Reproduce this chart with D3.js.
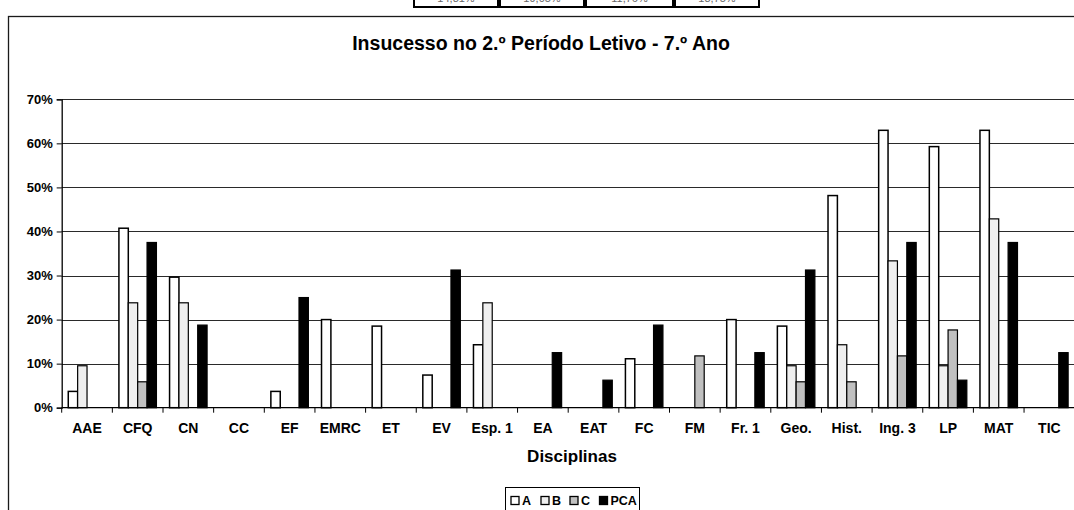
<!DOCTYPE html>
<html>
<head>
<meta charset="utf-8">
<script src="https://cdn.jsdelivr.net/npm/d3@7"></script>
<style>
  body { margin: 0; background: #fff; }
  svg { display: block; font-family: "Liberation Sans", Arial, sans-serif; }
</style>
</head>
<body>
<div id="chart"></div>
<script>
const categories = ["AAE", "CFQ", "CN", "CC", "EF", "EMRC", "ET", "EV", "Esp. 1", "EA",
    "EAT", "FC", "FM", "Fr. 1", "Geo.", "Hist.", "Ing. 3", "LP", "MAT", "TIC"];
const series = ["A", "B", "C", "PCA"];
const valuesA = [3.70, 40.74, 29.63, 0, 3.70, 20.00, 18.52, 7.41, 14.29, 0,
    0, 11.11, 0, 20.00, 18.52, 48.15, 62.96, 59.26, 62.96, 0];
const valuesB = [9.52, 23.81, 23.81, 0, 0, 0, 0, 0, 23.81, 0,
    0, 0, 0, 0, 9.52, 14.29, 33.33, 9.52, 42.86, 0];
const valuesC = [0, 5.88, 0, 0, 0, 0, 0, 0, 0, 0,
    0, 0, 11.76, 0, 5.88, 5.88, 11.76, 17.65, 0, 0];
const valuesPCA = [0, 37.5, 18.75, 0, 25, 0, 0, 31.25, 0, 12.5,
    6.25, 18.75, 0, 12.5, 31.25, 0, 37.5, 6.25, 37.5, 12.5];
const yTicks = [0, 10, 20, 30, 40, 50, 60, 70];
const tableCells = ["14,81%", "19,05%", "11,76%", "18,75%"];

const colors = { A: "#ffffff", B: "#efefef", C: "#c0c0c0", PCA: "#000000" };
const seriesValues = { A: valuesA, B: valuesB, C: valuesC, PCA: valuesPCA };

const W = 1074, H = 510;
const plotLeft = 61.7, bandW = 50.65;
const plotRight = plotLeft + categories.length * bandW;

const svg = d3.select("#chart")
    .append("svg")
    .attr("width", W)
    .attr("height", H);

// cut-off table at the top of the sheet
const cellX = [414, 500, 586, 675], cellW = [84, 84, 87, 84];
const cells = svg.append("g");
cells.selectAll("rect")
    .data(tableCells)
    .enter()
    .append("rect")
    .attr("x", (d, i) => cellX[i])
    .attr("y", -12)
    .attr("width", (d, i) => cellW[i])
    .attr("height", 19)
    .attr("fill", "#fff")
    .attr("stroke", "#000")
    .attr("stroke-width", 2);
cells.selectAll("text")
    .data(tableCells)
    .enter()
    .append("text")
    .attr("x", (d, i) => cellX[i] + cellW[i] / 2)
    .attr("y", 2)
    .attr("text-anchor", "middle")
    .style("font-size", "11px")
    .style("fill", "#666")
    .text(d => d);

// chart frame
svg.append("rect")
    .attr("x", 8.5)
    .attr("y", 16.5)
    .attr("width", W + 20)
    .attr("height", H + 20)
    .attr("fill", "none")
    .attr("stroke", "#1a1a1a")
    .attr("stroke-width", 1.3);

const x = d3.scaleBand()
    .domain(categories)
    .range([plotLeft, plotRight]);

const xs = d3.scaleBand()
    .domain(series)
    .range([0, x.bandwidth()])
    .paddingOuter(0.7);

const y = d3.scaleLinear()
    .domain([0, 70])
    .range([407.7, 99.3]);

//Gridlines
svg.append("g")
    .selectAll("line")
    .data(yTicks.filter(d => d > 0))
    .enter()
    .append("line")
    .attr("x1", plotLeft)
    .attr("x2", plotRight)
    .attr("y1", d => Math.round(y(d)) + 0.5)
    .attr("y2", d => Math.round(y(d)) + 0.5)
    .attr("stroke", "#2a2a2a")
    .attr("stroke-width", 1);

//Bars
const groups = svg.append("g")
    .selectAll("g")
    .data(categories)
    .enter()
    .append("g")
    .attr("transform", c => `translate(${x(c)},0)`);

groups.selectAll("rect")
    .data((c, i) => series.map(s => ({ s, v: seriesValues[s][i] })).filter(d => d.v > 0))
    .enter()
    .append("rect")
    .attr("x", d => xs(d.s))
    .attr("y", d => y(d.v))
    .attr("width", xs.bandwidth())
    .attr("height", d => y(0) - y(d.v))
    .attr("fill", d => colors[d.s])
    .attr("stroke", "#000")
    .attr("stroke-width", d => d.s === "A" ? 1.5 : 1.2);

//Y Axis
const yAxis = svg.append("g")
    .attr("transform", `translate(${plotLeft},0)`)
    .call(d3.axisLeft(y).tickValues(yTicks).tickSize(5).tickPadding(4).tickFormat(d => d + "%"));
yAxis.select(".domain").attr("stroke", "#000").attr("stroke-width", 1.3);
yAxis.selectAll(".tick line").attr("stroke", "#000");
yAxis.selectAll("text")
    .style("font-size", "13px")
    .style("font-weight", "bold")
    .style("fill", "#000")
    .attr("font-family", null);

//X Axis
const xAxis = svg.append("g")
    .attr("transform", `translate(0,${y(0)})`)
    .call(d3.axisBottom(x).tickSize(0).tickPadding(15));
xAxis.select(".domain").remove();
xAxis.selectAll("text")
    .style("font-size", "14px")
    .style("font-weight", "bold")
    .style("fill", "#000")
    .attr("font-family", null);

svg.append("line")
    .attr("x1", plotLeft)
    .attr("x2", plotRight)
    .attr("y1", y(0))
    .attr("y2", y(0))
    .attr("stroke", "#000")
    .attr("stroke-width", 1.3);

svg.append("g")
    .selectAll("line")
    .data(categories.map(c => x(c)).concat([plotRight]))
    .enter()
    .append("line")
    .attr("x1", d => d)
    .attr("x2", d => d)
    .attr("y1", y(0))
    .attr("y2", y(0) + 5)
    .attr("stroke", "#000");

//Chart title
svg.append("text")
    .attr("x", 541)
    .attr("y", 50)
    .attr("text-anchor", "middle")
    .style("font-size", "19.5px")
    .style("font-weight", "bold")
    .text("Insucesso no 2.º Período Letivo - 7.º Ano");

//Axis title
svg.append("text")
    .attr("x", 572)
    .attr("y", 462)
    .attr("text-anchor", "middle")
    .style("font-size", "17px")
    .style("font-weight", "bold")
    .text("Disciplinas");

//Legend
const legend = svg.append("g").attr("transform", "translate(505,487)");
legend.append("rect")
    .attr("x", 0.5)
    .attr("y", 0.5)
    .attr("width", 134)
    .attr("height", 30)
    .attr("fill", "#fff")
    .attr("stroke", "#000");

const legendX = [6, 36, 65, 94.5];
const items = legend.selectAll(".item")
    .data(series)
    .enter()
    .append("g")
    .attr("transform", (d, i) => `translate(${legendX[i]},0)`);
items.append("rect")
    .attr("x", 0)
    .attr("y", 9.5)
    .attr("width", 8)
    .attr("height", 8)
    .attr("fill", d => colors[d])
    .attr("stroke", "#000")
    .attr("stroke-width", 1.3);
items.append("text")
    .attr("x", 11)
    .attr("y", 18)
    .style("font-size", "12.5px")
    .style("font-weight", "bold")
    .text(d => d);
</script>
</body>
</html>
